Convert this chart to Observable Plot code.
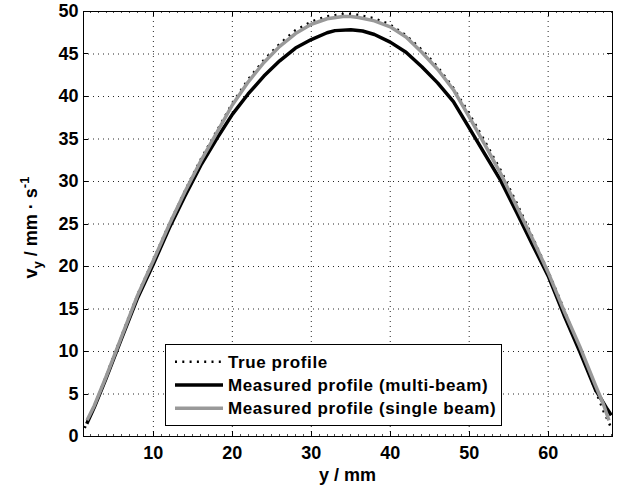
<!DOCTYPE html>
<html><head><meta charset="utf-8">
<script src="https://cdn.jsdelivr.net/npm/d3@7"></script>
<script src="https://cdn.jsdelivr.net/npm/@observablehq/plot@0.6"></script>
<style>body{margin:0;background:#fff;}</style>
</head><body><div id="chart"></div>
<script>
// ---- data ----
const trueY = [1.3, 2.5, 4, 6, 8, 10, 12, 14, 16, 18, 20, 22, 24, 26, 28, 30, 32, 34, 35, 36, 38, 40, 42, 44, 46, 48, 50, 52, 54, 56, 58, 60, 62, 64, 66, 67, 68];
const trueV = [1.0, 3.5, 7.1, 11.9, 16.7, 20.8, 25.0, 28.9, 32.6, 35.9, 39.2, 42.0, 44.3, 46.2, 47.8, 48.8, 49.45, 49.7, 49.7, 49.6, 49.2, 48.45, 47.2, 45.5, 43.5, 41.0, 38.0, 34.7, 31.3, 27.5, 23.5, 19.4, 15.0, 10.2, 5.4, 3.0, 1.0];

const multiY = [1.56, 2.5, 4, 6, 8, 10, 12, 14, 16, 18, 20, 22, 24, 26, 28, 30, 32, 33, 35, 36.5, 38, 40, 42, 44, 46, 48, 50, 52, 54, 56, 58, 60, 62, 64, 66, 67.5, 68];
const multiV = [1.5, 3.4, 6.8, 11.6, 16.3, 20.3, 24.5, 28.3, 31.9, 35.0, 37.9, 40.3, 42.4, 44.2, 45.7, 46.7, 47.5, 47.75, 47.85, 47.7, 47.3, 46.4, 45.2, 43.5, 41.6, 39.4, 36.3, 33.2, 30.1, 26.4, 22.6, 18.9, 14.3, 10.0, 5.5, 3.2, 2.5];

const singleY = [1.6, 2.5, 4, 6, 8, 10, 12, 14, 16, 18, 20, 22, 24, 26, 28, 30, 32, 34, 35, 36, 38, 40, 42, 44, 46, 48, 50, 52, 54, 56, 58, 60, 62, 64, 66, 67, 67.7];
const singleV = [1.9, 3.6, 7.0, 11.8, 16.6, 20.7, 24.9, 28.8, 32.4, 35.7, 39.0, 41.7, 44.0, 45.9, 47.4, 48.5, 49.15, 49.4, 49.4, 49.3, 48.9, 48.2, 47.0, 45.2, 43.2, 40.8, 37.6, 34.3, 30.9, 27.1, 23.3, 19.3, 14.8, 10.6, 6.0, 3.8, 1.9];

const seriesNames = ["True profile", "Measured profile (multi-beam)", "Measured profile (single beam)"];
const xTicks = [10, 20, 30, 40, 50, 60];
const yTicks = [0, 5, 10, 15, 20, 25, 30, 35, 40, 45, 50];
const xMinorTicks = d3.range(2, 69, 1);
const xDomain = [1.15, 68.15];
const yDomain = [0, 50];

// ---- build tables ----
const toRows = (ys, vs) => ys.map((y, i) => ({y, v: vs[i]}));
const series = [
  {name: seriesNames[0], rows: toRows(trueY, trueV), stroke: "#000", width: 2.5, dash: "2,5.3"},
  {name: seriesNames[1], rows: toRows(multiY, multiV), stroke: "#000", width: 3.5, dash: null},
  {name: seriesNames[2], rows: toRows(singleY, singleV), stroke: "#999", width: 3.5, dash: null}
];

const font = "'Liberation Sans', Arial, Helvetica, sans-serif";
const plot = Plot.plot({
  width: 621, height: 488,
  marginLeft: 83, marginRight: 9, marginTop: 11, marginBottom: 52,
  style: {fontFamily: font, fontWeight: "bold", fontSize: "18px", background: "#fff", color: "#000"},
  x: {domain: xDomain, label: null},
  y: {domain: yDomain, label: null},
  marks: [
    Plot.gridX(xTicks, {stroke: "#000", strokeOpacity: 0.85, strokeDasharray: "1,4"}),
    Plot.gridY(yTicks, {stroke: "#000", strokeOpacity: 0.85, strokeDasharray: "1,4"}),
    Plot.axisX(xTicks, {tickSize: 0, tickPadding: 10, label: null, fontSize: 18, fontWeight: "bold"}),
    Plot.axisY(yTicks, {tickSize: 0, tickPadding: 5, label: null, fontSize: 18, fontWeight: "bold"}),
    ...series.map(s => Plot.line(s.rows, {x: "y", y: "v", stroke: s.stroke, strokeWidth: s.width, strokeDasharray: s.dash, strokeLinecap: "butt"})),
    Plot.frame({stroke: "#000", strokeWidth: 1})
  ]
});
document.getElementById("chart").append(plot);

// ---- inward ticks, using the plot's own scales ----
const svg = d3.select(plot);
const sx = plot.scale("x"), sy = plot.scale("y");
const X0 = sx.apply(xDomain[0]), X1 = sx.apply(xDomain[1]);
const Y0 = sy.apply(yDomain[0]), Y1 = sy.apply(yDomain[1]);
const tg = svg.append("g").attr("stroke", "#000").attr("stroke-width", 1);
xTicks.forEach(t => {
  const px = Math.round(sx.apply(t)) + 0.5;
  tg.append("line").attr("x1", px).attr("x2", px).attr("y1", Y0).attr("y2", Y0 - 5);
  tg.append("line").attr("x1", px).attr("x2", px).attr("y1", Y1).attr("y2", Y1 + 5);
});
xMinorTicks.forEach(t => {
  const px = Math.round(sx.apply(t)) + 0.5;
  tg.append("line").attr("x1", px).attr("x2", px).attr("y1", Y0).attr("y2", Y0 - 2).attr("stroke-opacity", 0.7);
  tg.append("line").attr("x1", px).attr("x2", px).attr("y1", Y1).attr("y2", Y1 + 2).attr("stroke-opacity", 0.7);
});
yTicks.forEach(t => {
  const py = Math.round(sy.apply(t)) + 0.5;
  tg.append("line").attr("x1", X0).attr("x2", X0 + 5).attr("y1", py).attr("y2", py);
  tg.append("line").attr("x1", X1).attr("x2", X1 - 5).attr("y1", py).attr("y2", py);
});

// ---- axis titles ----
svg.append("text")
  .attr("x", (X0 + X1) / 2).attr("y", 481)
  .attr("text-anchor", "middle")
  .style("font", `bold 18px ${font}`)
  .text("y / mm");

const yl = svg.append("text")
  .attr("transform", `translate(37,${(Y0 + Y1) / 2 + 4}) rotate(-90)`)
  .attr("text-anchor", "middle")
  .style("font", `bold 18px ${font}`);
yl.append("tspan").text("v");
yl.append("tspan").attr("dy", 5).style("font-size", "13px").text("y");
yl.append("tspan").attr("dy", -5).text(" / mm · s");
yl.append("tspan").attr("dy", -8).style("font-size", "13px").text("-1");

// ---- legend ----
const lg = svg.append("g").attr("text-anchor", "start");
lg.append("rect").attr("x", 165.5).attr("y", 344.5).attr("width", 336).attr("height", 81)
  .attr("fill", "#fff").attr("stroke", "#000").attr("stroke-width", 1);
const rowY = [361.7, 385, 408.3];
series.forEach((s, i) => {
  lg.append("line").attr("x1", 175).attr("x2", 223).attr("y1", rowY[i]).attr("y2", rowY[i])
    .attr("stroke", s.stroke).attr("stroke-width", i === 0 ? 2.5 : 3.5)
    .attr("stroke-dasharray", s.dash);
  lg.append("text").attr("x", 228).attr("y", rowY[i]).attr("dy", "0.36em")
    .attr("text-anchor", "start")
    .style("font", `bold 17px ${font}`).style("letter-spacing", "0.6px")
    .text(s.name);
});
</script>
</body></html>
